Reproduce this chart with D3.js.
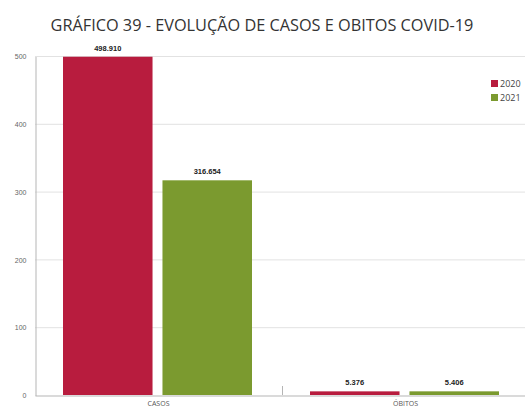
<!DOCTYPE html>
<html>
<head>
<meta charset="utf-8">
<script src="https://cdn.jsdelivr.net/npm/d3@7"></script>
<style>
  body { margin: 0; background: #fff; }
</style>
</head>
<body>
<div id="chart"></div>
<script>
var categories = ["CASOS", "ÓBITOS"];
var seriesNames = ["2020", "2021"];
var values2020 = [498.910, 5.376];
var values2021 = [316.654, 5.406];
var yTicks = [0, 100, 200, 300, 400, 500];
var colors = ["#b81c3e", "#7b9a2f"];

var width = 525;
var height = 410;
var margin = {top: 56, right: -4, bottom: 15, left: 35};

var svg = d3.select("#chart").append("svg")
    .attr("width", width)
    .attr("height", height);

svg.append("text")
    .attr("x", 262)
    .attr("y", 31)
    .attr("text-anchor", "middle")
    .style("font-family", "Open Sans")
    .style("font-size", "16.3px")
    .style("fill", "#333")
    .text("GRÁFICO 39 - EVOLUÇÃO DE CASOS E OBITOS COVID-19");

var x0 = d3.scaleBand()
    .domain(categories)
    .range([margin.left, width - margin.right]);

var x1 = d3.scaleBand()
    .domain(seriesNames)
    .range([28, x0.bandwidth() - 30])
    .paddingInner(0.1);

var y = d3.scaleLinear()
    .domain([0, 500])
    .range([height - margin.bottom, margin.top]);

// gridlines
svg.append("g").selectAll("line")
  .data(yTicks.filter(d => d > 0))
  .enter()
  .append("line")
  .attr("x1", margin.left)
  .attr("x2", width)
  .attr("y1", d => y(d) + 0.5)
  .attr("y2", d => y(d) + 0.5)
  .attr("stroke", "#e2e2e2")
  .attr("stroke-width", 1);

var yAxis = svg.append("g")
    .attr("transform", "translate(" + (margin.left + 0.5) + ",0.5)")
    .call(d3.axisLeft(y).tickValues(yTicks).tickSize(0).tickPadding(9));
yAxis.select(".domain").attr("stroke", "#b5b5b5");
yAxis.selectAll("text")
    .style("font-family", "Liberation Sans")
    .style("font-size", "7px")
    .style("fill", "#666");

var xAxis = svg.append("g")
    .attr("transform", "translate(0," + (y(0) + 0.5) + ")")
    .call(d3.axisBottom(x0).tickSize(0).tickPadding(6));
xAxis.select(".domain").attr("stroke", "#b5b5b5");
xAxis.selectAll("text")
    .style("font-family", "Open Sans")
    .style("font-size", "7px")
    .style("fill", "#555");

// separator tick between categories
svg.append("line")
    .attr("x1", x0("ÓBITOS") + 0.5)
    .attr("x2", x0("ÓBITOS") + 0.5)
    .attr("y1", y(0) - 9)
    .attr("y2", y(0))
    .attr("stroke", "#b5b5b5");

var rows = categories.map((c, i) => ({cat: c, vals: [values2020[i], values2021[i]]}));

var groups = svg.append("g").selectAll("g")
  .data(rows)
  .enter()
  .append("g")
  .attr("transform", d => "translate(" + x0(d.cat) + ",0)");

groups.selectAll("rect")
  .data(d => d.vals.map((v, j) => ({s: seriesNames[j], v: v, j: j})))
  .enter()
  .append("rect")
  .attr("x", d => x1(d.s))
  .attr("width", x1.bandwidth())
  .attr("y", d => y(d.v))
  .attr("height", d => y(0) - y(d.v))
  .attr("fill", d => colors[d.j]);

groups.selectAll("text")
  .data(d => d.vals.map((v, j) => ({s: seriesNames[j], v: v, j: j})))
  .enter()
  .append("text")
  .attr("x", d => x1(d.s) + x1.bandwidth() / 2)
  .attr("y", d => y(d.v) - 6)
  .attr("text-anchor", "middle")
  .style("font-family", "Liberation Sans")
  .style("font-size", "7.5px")
  .style("font-weight", "bold")
  .style("fill", "#222")
  .text(d => d.v.toFixed(3));

// legend
var legend = svg.append("g").selectAll("g")
  .data(seriesNames)
  .enter()
  .append("g")
  .attr("transform", (d, i) => "translate(491," + (80 + i * 14) + ")");

legend.append("rect")
  .attr("width", 7)
  .attr("height", 7)
  .attr("fill", (d, i) => colors[i]);

legend.append("text")
  .attr("x", 9)
  .attr("y", 7)
  .style("font-family", "Open Sans")
  .style("font-size", "9px")
  .style("fill", "#444")
  .text(d => d);
</script>
</body>
</html>
